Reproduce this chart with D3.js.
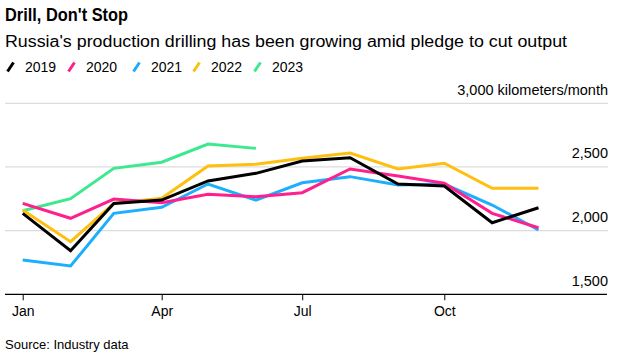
<!DOCTYPE html>
<html><head><meta charset="utf-8">
<script src="https://cdn.jsdelivr.net/npm/d3@7"></script>
<style>
html,body{margin:0;padding:0;background:#fff;}
text{font-family:"Liberation Sans",Arial,Helvetica,sans-serif;fill:#000;}
</style></head>
<body><svg id="c" width="631" height="355"></svg>
<script>
const months = ["Jan","Feb","Mar","Apr","May","Jun","Jul","Aug","Sep","Oct","Nov","Dec"];
const years = ["2019","2020","2021","2022","2023"];
const colors = ["#000000","#ff1f8e","#1eaffc","#ffbf0f","#3de98f"];
const v2019 = [2136,1842,2214,2240,2390,2450,2547,2573,2366,2350,2062,2180];
const v2020 = [2214,2097,2248,2219,2285,2266,2298,2484,2429,2372,2136,2023];
const v2021 = [1769,1722,2136,2183,2366,2240,2376,2424,2358,2366,2201,2005];
const v2022 = [2162,1913,2214,2254,2507,2521,2568,2610,2484,2529,2332,2332];
const v2023 = [2156,2251,2489,2537,2680,2646];
const yTicks = [1500,2000,2500,3000];
const xTickMonths = [0,3,6,9];
const series = [v2019,v2020,v2021,v2022,v2023];

const svg = d3.select("#c");
const x = d3.scaleTime().domain([new Date(2019,0,1), new Date(2020,0,1)]).range([22.7, 22.7+365*1.5443]);
const y = d3.scaleLinear().domain([1500,3000]).range([294.3,103.3]);
const left = 5, right = 608;

// title
svg.append("text").attr("x",5).attr("y",21).attr("font-size",18).attr("font-weight","bold")
  .attr("textLength",123).attr("lengthAdjust","spacingAndGlyphs").text("Drill, Don't Stop");
svg.append("text").attr("x",5).attr("y",47).attr("font-size",16)
  .attr("textLength",562).attr("lengthAdjust","spacingAndGlyphs")
  .text("Russia's production drilling has been growing amid pledge to cut output");

// legend
const legX = [6,67,132,192,253];
years.forEach((yr,i)=>{
  const g = svg.append("g").attr("transform",`translate(${legX[i]},0)`);
  g.append("line").attr("x1",1.5).attr("y1",71.5).attr("x2",7.5).attr("y2",62.5)
    .attr("stroke",colors[i]).attr("stroke-width",3);
  g.append("text").attr("x",19).attr("y",72).attr("font-size",14).text(yr);
});

// gridlines
svg.append("g").selectAll("line").data(yTicks.filter(t=>t>1500)).join("line")
  .attr("x1",left).attr("x2",right).attr("y1",d=>y(d)).attr("y2",d=>y(d))
  .attr("stroke","#dcdcdc").attr("stroke-width",1.3);

// y labels
const fmt = d3.format(",");
svg.append("g").selectAll("text").data(yTicks).join("text")
  .attr("x",right).attr("y",d=>y(d)-8.5).attr("text-anchor","end").attr("font-size",14.5)
  .text(d=> d===3000 ? fmt(d)+" kilometers/month" : fmt(d));

// x axis
const xAxis = d3.axisBottom(x).tickValues(xTickMonths.map(m=>new Date(2019,m,1)))
  .tickFormat(d=>months[d.getMonth()]).tickSize(6).tickPadding(6);
const ax = svg.append("g").attr("transform",`translate(0,${y(1500)})`).call(xAxis);
ax.select(".domain").remove();
ax.selectAll(".tick line").attr("stroke","#000");
ax.selectAll(".tick text").attr("font-size",14).attr("font-family","Liberation Sans, Arial, sans-serif").attr("fill","#000");
svg.append("line").attr("x1",left).attr("x2",607).attr("y1",y(1500)).attr("y2",y(1500))
  .attr("stroke","#000").attr("stroke-width",1.3);

// lines
const line = d3.line().x((d,i)=>x(new Date(2019,i,1))).y(d=>y(d));
for (let i = series.length-1; i>=0; i--) {
  svg.append("path").datum(series[i]).attr("d",line).attr("fill","none")
    .attr("stroke",colors[i]).attr("stroke-width",3).attr("stroke-linejoin","miter");
}

// source
svg.append("text").attr("x",5).attr("y",349).attr("font-size",13).text("Source: Industry data");
</script></body></html>
